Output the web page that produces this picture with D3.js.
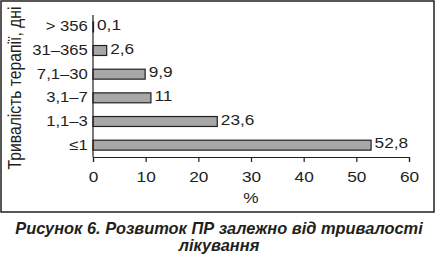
<!DOCTYPE html>
<html>
<head>
<meta charset="utf-8">
<script src="https://cdn.jsdelivr.net/npm/d3@7"></script>
<style>
  body { margin: 0; background: #fff; }
  text { font-family: "Liberation Sans", Arial, sans-serif; fill: #231f20; }
</style>
</head>
<body>
<div id="chart"></div>
<script>
const categories = ["> 356", "31–365", "7,1–30", "3,1–7", "1,1–3", "≤1"];
const values = [0.1, 2.6, 9.9, 11, 23.6, 52.8];
const valueLabels = ["0,1", "2,6", "9,9", "11", "23,6", "52,8"];
const xTicks = [0, 10, 20, 30, 40, 50, 60];

const width = 436, height = 255;
const stretch = 1.15; // the original type is a bit wider than Liberation Sans

const svg = d3.select("#chart").append("svg")
    .attr("width", width)
    .attr("height", height);

// frame
svg.append("rect")
    .attr("x", 1).attr("y", 1)
    .attr("width", 433).attr("height", 211)
    .attr("fill", "none")
    .attr("stroke", "#231f20")
    .attr("stroke-width", 1.5);

const x = d3.scaleLinear().domain([0, 60]).range([93, 409]);
const y = d3.scaleBand().domain(categories).range([15, 157]).paddingInner(0.58).paddingOuter(0.29);

const data = categories.map((c, i) => ({ cat: c, value: values[i], label: valueLabels[i] }));

// bars
svg.append("g").selectAll("rect")
    .data(data)
    .enter().append("rect")
    .attr("x", x(0))
    .attr("y", d => y(d.cat))
    .attr("width", d => x(d.value) - x(0))
    .attr("height", y.bandwidth())
    .attr("fill", "#a7a7a9")
    .attr("stroke", "#231f20")
    .attr("stroke-width", 1.2);

// value labels
svg.append("g").selectAll("text")
    .data(data)
    .enter().append("text")
    .attr("transform", d => `translate(${x(d.value) + 3.5},${y(d.cat) + y.bandwidth() / 2}) scale(${stretch},1)`)
    .attr("dy", "0.2em")
    .style("font-size", "15px")
    .text(d => d.label);

// x axis
const xAxis = svg.append("g")
    .attr("transform", "translate(0,157)")
    .call(d3.axisBottom(x).tickValues(xTicks).tickSize(5).tickPadding(9));
xAxis.selectAll("line, path").attr("stroke", "#231f20").attr("stroke-width", 1.2);
xAxis.selectAll("text")
    .style("font-size", "15px")
    .attr("fill", "#231f20")
    .attr("transform", `scale(${stretch},1)`);

// y axis
const yAxis = svg.append("g")
    .attr("transform", "translate(93,0)")
    .call(d3.axisLeft(y).tickSize(0).tickPadding(4.5));
yAxis.select(".domain").attr("stroke", "#231f20").attr("stroke-width", 1.2).attr("d", "M0,15V157");
yAxis.selectAll("text")
    .style("font-size", "14.5px")
    .attr("fill", "#231f20")
    .attr("transform", `scale(${stretch},1)`);

// axis titles
svg.append("text")
    .attr("transform", `translate(${x(30)},203) scale(${stretch},1)`)
    .attr("text-anchor", "middle")
    .style("font-size", "15px")
    .text("%");

svg.append("text")
    .attr("transform", `translate(21,88) rotate(-90) scale(1,${stretch})`)
    .attr("text-anchor", "middle")
    .style("font-size", "15.7px")
    .text("Тривалість терапії, дні");

// caption
const caption = svg.append("text")
    .attr("text-anchor", "middle")
    .style("font-size", "16.4px")
    .style("font-weight", "bold")
    .style("font-style", "italic");
caption.append("tspan").attr("x", 219).attr("y", 234).text("Рисунок 6. Розвиток ПР залежно від тривалості");
caption.append("tspan").attr("x", 219).attr("y", 251).text("лікування");
</script>
</body>
</html>
